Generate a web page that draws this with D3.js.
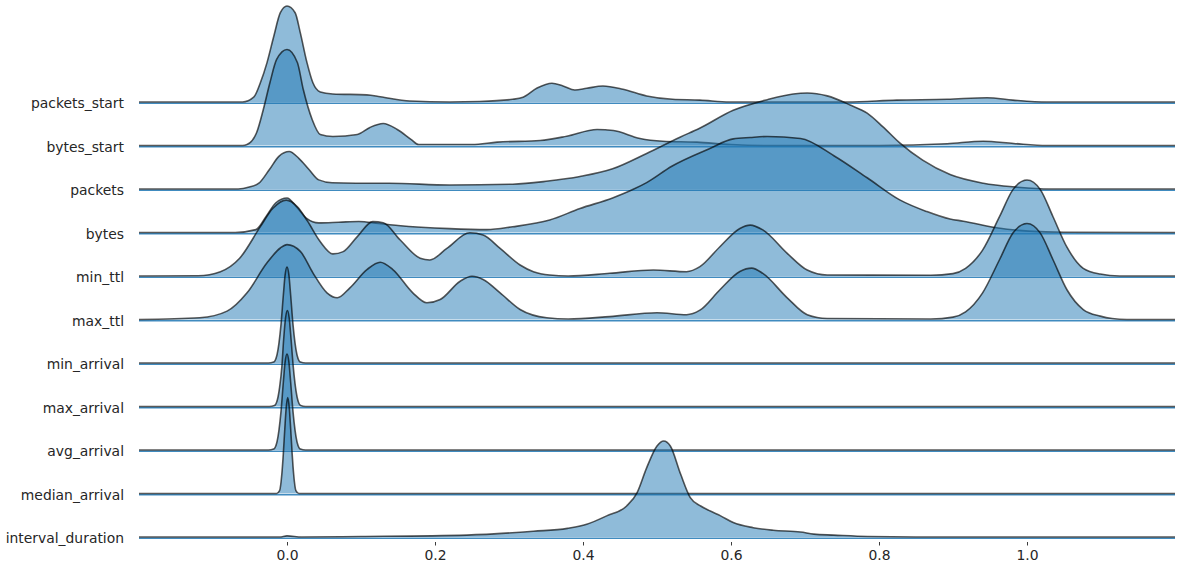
<!DOCTYPE html>
<html>
<head>
<meta charset="utf-8">
<script src="https://cdn.jsdelivr.net/npm/d3@7"></script>
<style>
  html, body { margin: 0; padding: 0; background: #fff; }
  svg { display: block; }
  text { font-family: "DejaVu Sans", sans-serif; fill: #262626; }
</style>
</head>
<body>
<svg id="chart" width="1182" height="575"></svg>
<script>
// ---- data (x value, relative density height 0..1) ----
const categories = ["packets_start","bytes_start","packets","bytes","min_ttl","max_ttl",
  "min_arrival","max_arrival","avg_arrival","median_arrival","interval_duration"];
const xTicks = [0.0, 0.2, 0.4, 0.6, 0.8, 1.0];

const packetsStart = [[-0.2,0],[-0.06,0],[-0.045,0.05],[-0.036,0.2],[-0.027,0.41],[-0.018,0.68],[-0.009,0.93],
  [0,1.0],[0.011,0.93],[0.018,0.72],[0.027,0.41],[0.035,0.2],[0.045,0.105],[0.062,0.084],[0.108,0.074],
  [0.126,0.055],[0.166,0.01],[0.22,0.0],[0.26,0.005],[0.305,0.028],[0.319,0.05],[0.338,0.145],[0.358,0.195],
  [0.373,0.167],[0.389,0.125],[0.405,0.143],[0.427,0.167],[0.454,0.133],[0.486,0.063],[0.521,0.028],
  [0.558,0.02],[0.598,0.0],[0.64,0.0],[0.757,0.0],[0.824,0.02],[0.892,0.028],[0.946,0.045],[0.981,0.02],
  [1.027,0.0],[1.2,0]];
const bytesStart = [[-0.2,0],[-0.06,0],[-0.054,0.01],[-0.041,0.135],[-0.032,0.375],[-0.023,0.656],[-0.014,0.896],
  [0,1.0],[0.014,0.865],[0.022,0.583],[0.034,0.271],[0.045,0.115],[0.062,0.094],[0.095,0.115],[0.112,0.188],
  [0.13,0.229],[0.149,0.167],[0.168,0.062],[0.178,0.01],[0.25,0.01],[0.284,0.035],[0.342,0.052],[0.378,0.097],
  [0.419,0.167],[0.441,0.156],[0.477,0.073],[0.508,0.045],[0.554,0.035],[0.6,0.01],[0.65,0.0],[0.8,0.0],
  [0.892,0.018],[0.941,0.045],[0.982,0.021],[1.027,0],[1.2,0]];
const packets = [[-0.2,0],[-0.066,0],[-0.051,0.02],[-0.038,0.06],[-0.024,0.2],[-0.011,0.34],[0.003,0.39],
  [0.016,0.32],[0.03,0.2],[0.043,0.095],[0.061,0.065],[0.093,0.06],[0.138,0.06],[0.22,0.042],[0.305,0.05],
  [0.35,0.08],[0.396,0.13],[0.44,0.21],[0.486,0.37],[0.531,0.54],[0.557,0.63],[0.603,0.82],[0.649,0.93],
  [0.684,0.99],[0.703,1.0],[0.73,0.97],[0.761,0.875],[0.784,0.79],[0.805,0.65],[0.828,0.48],[0.859,0.3],
  [0.896,0.15],[0.941,0.06],[0.986,0.02],[1.03,0.0],[1.2,0]];
const bytes = [[-0.2,0],[-0.07,0],[-0.042,0.03],[-0.028,0.17],[-0.015,0.31],[0.0,0.36],[0.012,0.275],
  [0.026,0.15],[0.043,0.1],[0.07,0.107],[0.097,0.115],[0.124,0.094],[0.15,0.073],[0.22,0.04],[0.27,0.03],
  [0.305,0.06],[0.355,0.13],[0.396,0.25],[0.44,0.36],[0.468,0.45],[0.486,0.52],[0.52,0.69],[0.57,0.87],
  [0.603,0.975],[0.626,0.99],[0.649,1.0],[0.694,0.98],[0.739,0.8],[0.784,0.57],[0.828,0.34],[0.864,0.22],
  [0.896,0.14],[0.914,0.118],[0.959,0.05],[1.003,0.014],[1.05,0.003],[1.2,0]];
const minTtl = [[-0.2,0],[-0.12,0.003],[-0.09,0.045],[-0.064,0.185],[-0.036,0.514],[-0.019,0.705],[-0.001,0.79],
  [0.014,0.72],[0.027,0.58],[0.045,0.357],[0.062,0.23],[0.076,0.254],[0.095,0.41],[0.116,0.566],[0.13,0.555],
  [0.153,0.375],[0.18,0.185],[0.193,0.167],[0.216,0.288],[0.247,0.45],[0.265,0.427],[0.288,0.288],
  [0.315,0.115],[0.333,0.045],[0.355,0.01],[0.38,0.0],[0.436,0.028],[0.495,0.0625],[0.54,0.045],
  [0.558,0.097],[0.585,0.305],[0.612,0.495],[0.626,0.53],[0.643,0.48],[0.676,0.236],[0.703,0.062],
  [0.73,0.01],[0.87,0.008],[0.9,0.025],[0.917,0.08],[0.94,0.27],[0.963,0.62],[0.981,0.9],[1.0,1.0],[1.018,0.9],
  [1.035,0.62],[1.054,0.3],[1.076,0.08],[1.099,0.02],[1.125,0],[1.2,0]];
const maxTtl = [[-0.2,0],[-0.118,0.018],[-0.081,0.087],[-0.054,0.278],[-0.027,0.59],[-0.009,0.745],[0.0,0.78],
  [0.018,0.71],[0.035,0.486],[0.054,0.278],[0.068,0.226],[0.085,0.33],[0.108,0.52],[0.126,0.597],
  [0.143,0.52],[0.17,0.278],[0.189,0.174],[0.207,0.208],[0.234,0.399],[0.25,0.45],[0.265,0.417],
  [0.288,0.278],[0.315,0.104],[0.351,0.018],[0.38,0.005],[0.436,0.03],[0.5,0.07],[0.54,0.05],[0.558,0.097],
  [0.585,0.31],[0.612,0.5],[0.628,0.535],[0.643,0.48],[0.676,0.226],[0.703,0.05],[0.73,0.01],[0.87,0.005],
  [0.9,0.025],[0.917,0.08],[0.94,0.278],[0.963,0.625],[0.981,0.9],[1.0,1.0],[1.018,0.9],[1.035,0.625],[1.054,0.31],
  [1.076,0.104],[1.099,0.035],[1.115,0.01],[1.135,0],[1.2,0]];
const minArrival = [[-0.2,0],[-0.025,0],[-0.018,0.01],[-0.014,0.07],[-0.011,0.2],[-0.008,0.41],[-0.005,0.7],
  [-0.0025,0.92],[0.0,1.0],[0.0025,0.92],[0.005,0.7],[0.008,0.41],[0.011,0.2],[0.014,0.07],[0.018,0.01],
  [0.025,0],[1.2,0]];
const maxArrival = [[-0.2,0],[-0.024,0],[-0.017,0.01],[-0.013,0.07],[-0.01,0.2],[-0.007,0.41],[-0.0045,0.7],
  [-0.002,0.92],[0.0005,1.0],[0.003,0.92],[0.0055,0.7],[0.0085,0.41],[0.0115,0.2],[0.0145,0.07],
  [0.0185,0.01],[0.025,0],[1.2,0]];
const avgArrival = [[-0.2,0],[-0.025,0],[-0.018,0.01],[-0.014,0.07],[-0.011,0.2],[-0.008,0.41],[-0.005,0.7],
  [-0.0025,0.92],[0.0,1.0],[0.0025,0.92],[0.005,0.7],[0.008,0.41],[0.011,0.2],[0.014,0.07],[0.018,0.01],
  [0.025,0],[1.2,0]];
const medianArrival = [[-0.2,0],[-0.014,0],[-0.01,0.03],[-0.007,0.2],[-0.005,0.41],[-0.003,0.67],[-0.001,0.9],
  [0.001,1.0],[0.003,0.9],[0.005,0.67],[0.007,0.41],[0.009,0.2],[0.012,0.03],[0.016,0],[1.2,0]];
const intervalDuration = [[-0.2,0],[-0.01,0],[0.0,0.012],[0.02,0.0],[0.1,0.005],[0.243,0.02],[0.333,0.06],
  [0.379,0.09],[0.405,0.133],[0.432,0.22],[0.459,0.323],[0.473,0.46],[0.486,0.72],[0.5,0.948],[0.509,1.0],
  [0.518,0.948],[0.532,0.653],[0.545,0.41],[0.559,0.323],[0.572,0.27],[0.586,0.22],[0.603,0.15],
  [0.63,0.097],[0.657,0.07],[0.694,0.052],[0.712,0.03],[0.739,0.02],[0.785,0.005],[0.85,0],[1.2,0]];

const seriesList = [packetsStart, bytesStart, packets, bytes, minTtl, maxTtl,
  minArrival, maxArrival, avgArrival, medianArrival, intervalDuration];

// ---- drawing ----
const svg = d3.select("#chart");
const x = d3.scaleLinear().domain([-0.2, 1.2]).range([139, 1175]);
const rowY = d3.scalePoint().domain(categories).range([102, 537]);
const h = d3.scaleLinear().domain([0, 1]).range([0, 96]);
const curve = d3.curveMonotoneX;

const area = base => d3.area().curve(curve)
  .x(d => x(d[0])).y0(base).y1(d => base - h(d[1]));
const line = base => d3.line().curve(curve)
  .x(d => x(d[0])).y(d => base - h(d[1]));

categories.forEach((cat, i) => {
  const base = rowY(cat);
  const g = svg.append("g");
  g.append("path").datum(seriesList[i]).attr("d", area(base))
    .attr("fill", "#1f77b4").attr("fill-opacity", 0.5).attr("stroke", "none");
  g.append("line").attr("x1", x(-0.2)).attr("x2", x(1.2))
    .attr("y1", base + 1.2).attr("y2", base + 1.2)
    .attr("stroke", "#1f77b4").attr("stroke-opacity", 0.85).attr("stroke-width", 1.6);
  g.append("path").datum(seriesList[i]).attr("d", line(base))
    .attr("fill", "none").attr("stroke", "#000").attr("stroke-opacity", 0.65)
    .attr("stroke-width", 1.6).attr("stroke-linejoin", "round");
  svg.append("text").attr("x", 124).attr("y", base + 1)
    .attr("text-anchor", "end").attr("dominant-baseline", "central")
    .style("font-size", "13.9px").text(cat);
});

const xAxis = d3.axisBottom(x).tickValues(xTicks).tickFormat(d3.format(".1f"))
  .tickSize(3.5).tickPadding(4.5);
const ax = svg.append("g").attr("transform", "translate(0,542)").call(xAxis);
ax.select(".domain").remove();
ax.selectAll(".tick line").attr("stroke", "#262626").attr("stroke-width", 0.9);
ax.selectAll(".tick text").style("font-size", "13.9px").style("font-family", "DejaVu Sans, sans-serif").attr("fill", "#262626");
</script>
</body>
</html>
